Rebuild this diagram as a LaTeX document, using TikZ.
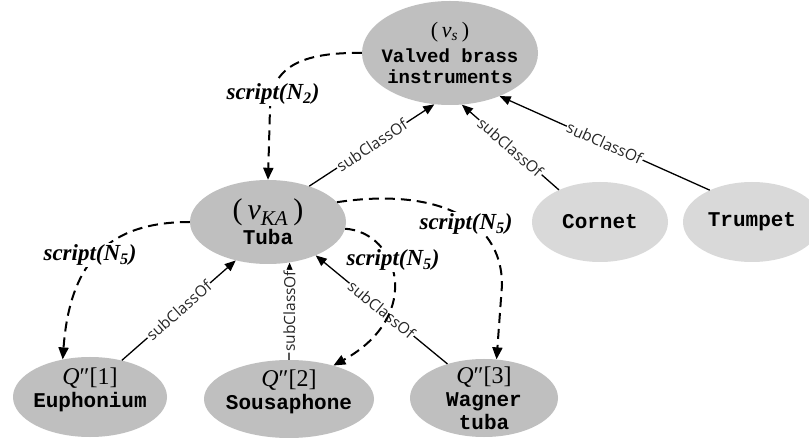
\documentclass[tikz,border=0pt]{standalone}
\usepackage{fontspec}
\setmainfont{Liberation Serif}
\setmonofont{Liberation Mono}
\setsansfont{Open Sans}
\usetikzlibrary{shapes.geometric,arrows.meta}

\definecolor{nodedark}{HTML}{BFBFBF}
\definecolor{nodelight}{HTML}{D9D9D9}
\definecolor{edgetext}{HTML}{262626}

% serif text at a given size inside the monospaced class nodes
\newcommand{\varfont}[1]{\rmfamily\mdseries\fontsize{#1}{#1}\selectfont}

\tikzset{
  concept/.style={ellipse, fill=nodedark, inner sep=-60pt, align=center,
    font=\ttfamily\bfseries\fontsize{21}{23}\selectfont},
  leafclass/.style={concept, fill=nodelight},
  subclass/.style={draw=black, line width=1.3pt,
    -{Triangle[length=11pt,width=9pt]}},
  sublabel/.style={sloped, fill=white, inner sep=1pt, text=edgetext,
    font=\sffamily\fontsize{15.5}{16}\selectfont},
  scriptedge/.style={draw=black, line width=2pt, dash pattern=on 10pt off 6pt,
    -{Triangle[length=12pt,width=10pt]}},
  scriptlabel/.style={fill=white, inner sep=1.5pt,
    font=\fontsize{23}{26}\selectfont\bfseries\itshape},
}

\begin{document}
\begin{tikzpicture}[x=1pt, y=-1pt]
  \fill[white] (0,0) rectangle (809,438);
  \useasboundingbox (0,0) rectangle (809,438);

  % class nodes
  \node[concept, minimum width=176pt, minimum height=104pt,
        font=\ttfamily\bfseries\fontsize{19}{21}\selectfont] (vs) at (450,53)
    {{\varfont{22}(\,\textit{v}\textsubscript{\textit{s}}\,)}\\[4pt]Valved brass\\instruments};
  \node[concept, minimum width=156pt, minimum height=84pt] (tuba) at (268,222)
    {{\varfont{30}(\,\textit{v}\textsubscript{\textit{KA}}\,)}\\[2pt]Tuba};
  \node[leafclass, minimum width=136pt, minimum height=80pt] (cornet) at (600,222) {Cornet};
  \node[leafclass, minimum width=138pt, minimum height=80pt] (trumpet) at (752,222) {Trumpet};
  \node[concept, minimum width=154pt, minimum height=80pt, text depth=18pt] (euph) at (90,397)
    {{\varfont{24}\textit{Q}″[1]}\\Euphonium};
  \node[concept, minimum width=170pt, minimum height=78pt, text depth=18pt] (sousa) at (289,399)
    {{\varfont{24}\textit{Q}″[2]}\\Sousaphone};
  \node[concept, minimum width=148pt, minimum height=78pt] (wagner) at (484,398)
    {{\varfont{24}\textit{Q}″[3]}\\Wagner\\tuba};

  % subClassOf relations
  \draw[subclass] (tuba.41) -- node[sublabel]{subClassOf} (vs.253);
  \draw[subclass] (cornet.142) -- node[sublabel]{subClassOf} (vs.283);
  \draw[subclass] (trumpet.143) -- node[sublabel]{subClassOf} (vs.319);
  \draw[subclass] (euph.49) -- node[sublabel]{subClassOf} (tuba.230);
  \draw[subclass] (sousa.north) -- node[sublabel]{subClassOf} (tuba.-62);
  \draw[subclass] (wagner.137) -- node[sublabel]{subClassOf} (tuba.-35);

  % script mappings
  \draw[scriptedge] (vs.west) .. controls (300,52) and (271,68) .. (270,108) -- (tuba.north);
  \draw[scriptedge] (tuba.west) .. controls (110,222) and (70,260) .. (euph.126);
  \draw[scriptedge] (tuba.-5) .. controls (398,232) and (425,315) .. (sousa.37);
  \draw[scriptedge] (tuba.16) .. controls (430,188) and (502,215) .. (502,285) -- (wagner.72);

  \node[scriptlabel] (lblvs) at (273,94) {script(N\textsubscript{2})};
  \node[scriptlabel] (lbleuph) at (90,255) {script(N\textsubscript{5})};
  \node[scriptlabel] (lblsousa) at (393,260) {script(N\textsubscript{5})};
  \node[scriptlabel] (lblwagner) at (466,224) {script(N\textsubscript{5})};
\end{tikzpicture}
\end{document}
